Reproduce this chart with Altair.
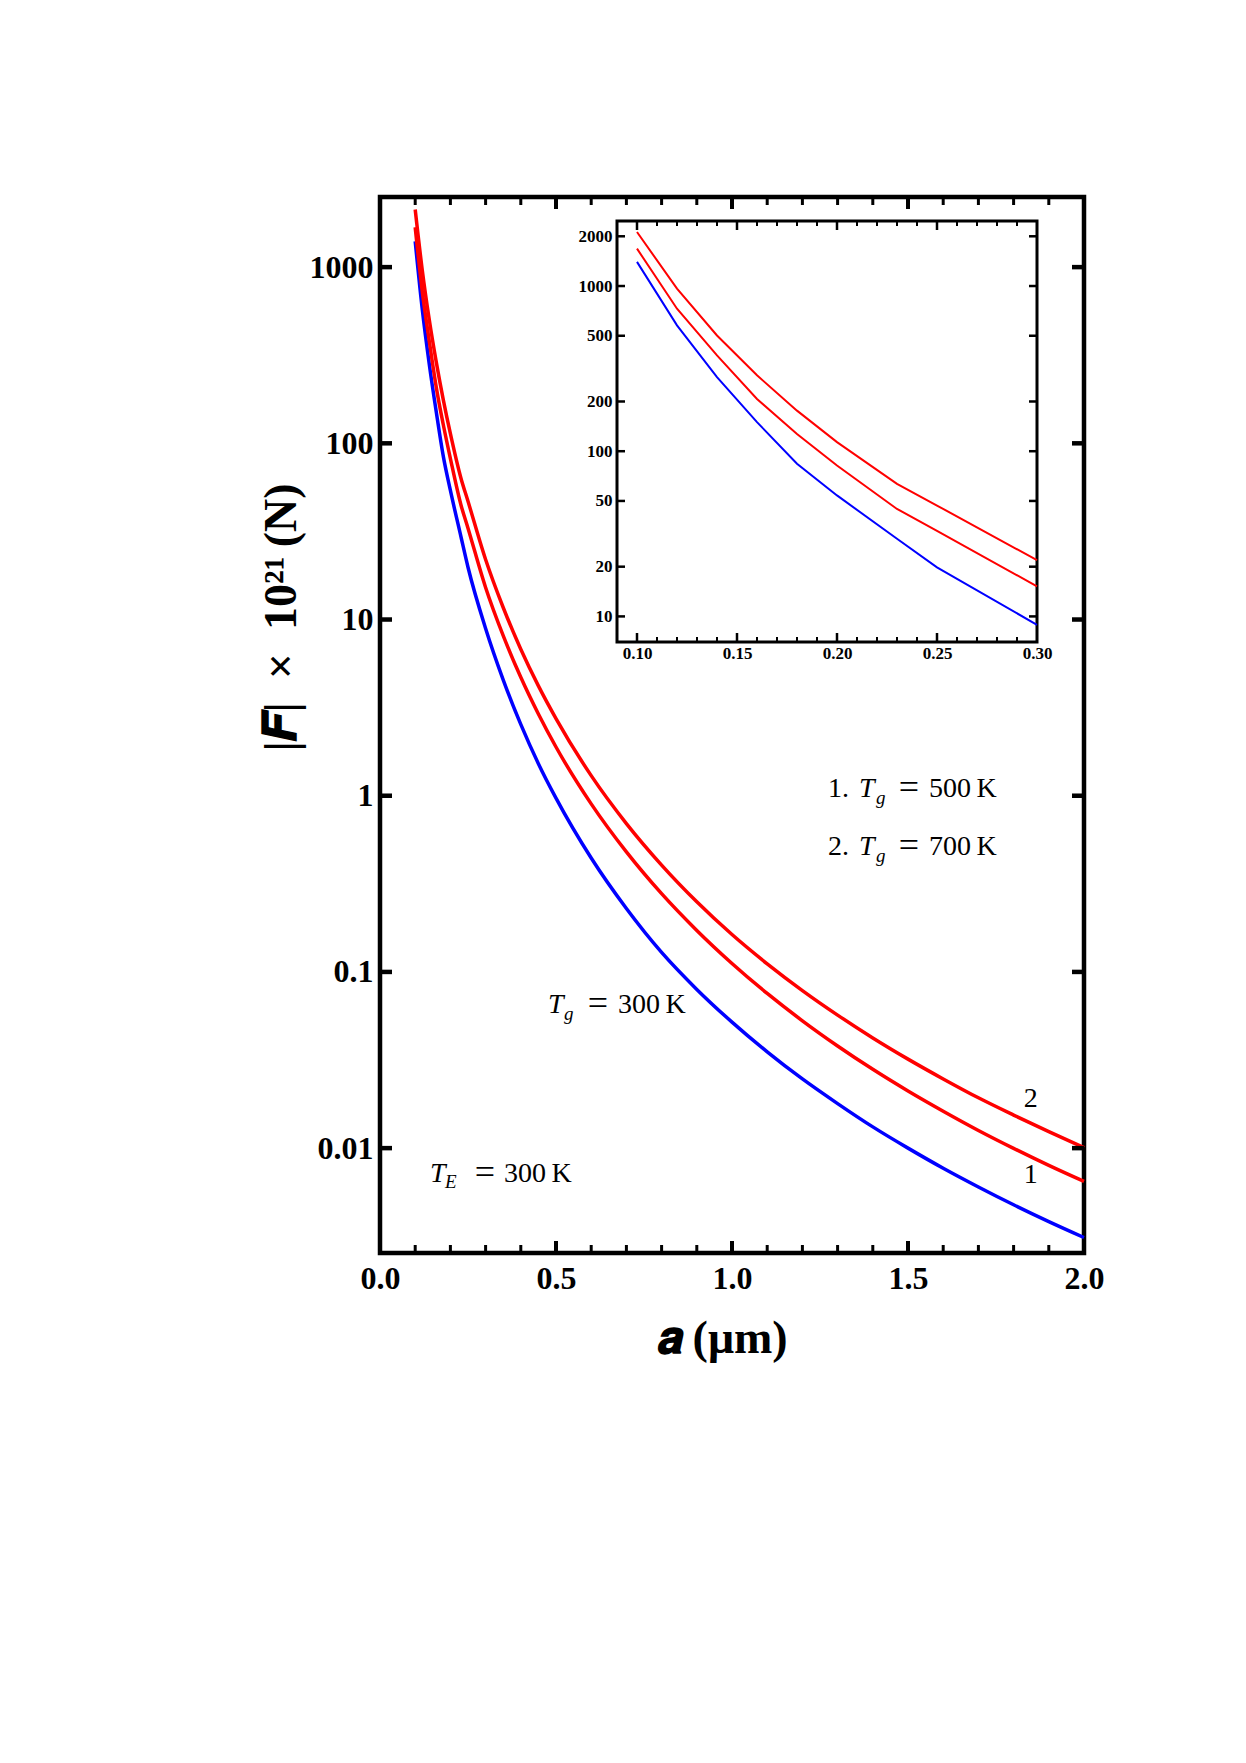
import altair as alt
import pandas as pd

FONT = "Liberation Serif"
TITLE_FONT = "Liberation Serif, DejaVu Serif"

# ---------------- data ----------------
a_vals = [0.10, 0.12, 0.14, 0.16, 0.18, 0.20, 0.23, 0.25, 0.30, 0.35, 0.40, 0.45,
          0.50, 0.60, 0.70, 0.80, 0.90, 1.00, 1.10, 1.20, 1.30, 1.40, 1.50, 1.60,
          1.70, 1.80, 1.90, 2.00]
blue_300 = [1400, 578, 281, 150, 84, 54, 29.5, 19.8, 8.9, 4.55, 2.54, 1.52,
            0.969, 0.443, 0.229, 0.129, 0.0796, 0.0519, 0.0352, 0.0247, 0.0179, 0.0132, 0.0100, 0.00769,
            0.00602, 0.00477, 0.00383, 0.00311]
red_500 = [1683, 729, 380, 207, 127, 82, 44.7, 33, 15.2, 8.10, 4.70, 2.91,
           1.89, 0.899, 0.480, 0.278, 0.172, 0.1117, 0.0755, 0.0528, 0.0380, 0.0280, 0.0211, 0.0162,
           0.0126, 0.00997, 0.00798, 0.00647]
red_700 = [2123, 964, 502, 288, 176, 113.5, 63.4, 46.9, 21.9, 11.7, 6.78, 4.20,
           2.74, 1.30, 0.695, 0.404, 0.250, 0.163, 0.1112, 0.0784, 0.0569, 0.0422, 0.0320, 0.0247,
           0.0193, 0.0154, 0.0124, 0.01006]
series_names = ["Tg300", "Tg500", "Tg700"]
series_colors = ["#0000ff", "#ff0000", "#ff0000"]

main_x_domain = [0.0, 2.0]
main_y_domain = [0.00254, 2500]
main_x_labels = [0.0, 0.5, 1.0, 1.5, 2.0]
main_y_labels = [0.01, 0.1, 1, 10, 100, 1000]
main_x_major = [0.5, 1.0, 1.5]
main_x_minor = [0.1, 0.2, 0.3, 0.4, 0.6, 0.7, 0.8, 0.9, 1.1, 1.2, 1.3, 1.4, 1.6, 1.7, 1.8, 1.9]

inset_x_domain = [0.09, 0.30]
inset_y_domain = [7, 2475]
inset_x_labels = [0.10, 0.15, 0.20, 0.25, 0.30]
inset_y_labels = [10, 20, 50, 100, 200, 500, 1000, 2000]
inset_x_major = [0.10, 0.15, 0.20, 0.25]
inset_x_minor = [0.11, 0.12, 0.13, 0.14, 0.16, 0.17, 0.18, 0.19, 0.21, 0.22, 0.23, 0.24,
                 0.26, 0.27, 0.28, 0.29]

# annotation anchors (data coordinates)
ann_tg300 = {"x": [0.477], "y": [0.0583]}
ann_te300 = {"x": [0.142], "y": [0.00644]}
ann_tg500 = {"x": [1.2727], "y": [0.986]}
ann_tg700 = {"x": [1.2727], "y": [0.460]}
curve_label_x = [1.849, 1.849]
curve_label_y = [0.00631, 0.01714]
curve_label_text = ["1", "2"]

# ---------------- layout ----------------
W, H = 704, 1056
INSET_X_RANGE = [237, 657]
INSET_Y_RANGE = [445, 24]

rows = []
for name, vals in zip(series_names, [blue_300, red_500, red_700]):
    for x, v in zip(a_vals, vals):
        rows.append({"a": x, "F": v, "series": name})
df = pd.DataFrame(rows)
df_inset = df[df["a"] <= 0.30 + 1e-9]

xs = alt.Scale(domain=main_x_domain, nice=False, zero=False)
ys = alt.Scale(type="log", domain=main_y_domain, nice=False)
ixs = alt.Scale(domain=inset_x_domain, range=INSET_X_RANGE, nice=False, zero=False)
iys = alt.Scale(type="log", domain=inset_y_domain, range=INSET_Y_RANGE, nice=False)


def cs():
    return alt.Scale(domain=series_names, range=series_colors)


lab = dict(labelFont=FONT, labelFontWeight="bold", labelColor="black",
           labelFlush=False, labelOverlap=False, ticks=False,
           domain=False, grid=False)

main_lines = alt.Chart(df).mark_line(strokeWidth=3.5, interpolate="monotone").encode(
    x=alt.X("a:Q", scale=xs, axis=alt.Axis(
        values=main_x_labels, format=".1f", labelFontSize=32, labelPadding=10,
        title="𝒂\u2009(μm)", titleFont=TITLE_FONT, titleFontSize=46, titleFontWeight="bold",
        titleColor="black", titleX=342, titleY=85, titleBaseline="middle",
        titleAlign="center", **lab)),
    y=alt.Y("F:Q", scale=ys, axis=alt.Axis(
        values=main_y_labels, format="~g", labelFontSize=32, labelPadding=7,
        title="|𝑭|\u2002×\u200210²¹\u2009(N)", titleFont=TITLE_FONT, titleFontSize=46,
        titleFontWeight="bold", titleColor="black", titleX=-99, titleY=420, titleAngle=270,
        titleBaseline="middle", titleAlign="center", **lab)),
    color=alt.Color("series:N", scale=cs(), legend=None),
    detail="series:N",
)


def xticks(vals, yval, size, thick, yoff, sx, sy):
    return alt.Chart(pd.DataFrame({"x": vals, "y": [yval] * len(vals)})).mark_tick(
        orient="vertical", size=size, thickness=thick, yOffset=yoff, color="black", opacity=1
    ).encode(x=alt.X("x:Q", scale=sx, axis=None), y=alt.Y("y:Q", scale=sy, axis=None))


def yticks(vals, xval, size, thick, xoff, sx, sy):
    return alt.Chart(pd.DataFrame({"y": vals, "x": [xval] * len(vals)})).mark_tick(
        orient="horizontal", size=size, thickness=thick, xOffset=xoff, color="black", opacity=1
    ).encode(y=alt.Y("y:Q", scale=sy, axis=None), x=alt.X("x:Q", scale=sx, axis=None))


def text_pieces(anchor, pieces):
    layers = []
    d = pd.DataFrame(anchor)
    for txt, dx, dy, size, style, align in pieces:
        layers.append(alt.Chart(d).mark_text(
            text=txt, dx=dx, dy=dy, fontSize=size, fontStyle=style, font=FONT,
            align=align, baseline="alphabetic", color="black"
        ).encode(x=alt.X("x:Q", scale=xs, axis=None), y=alt.Y("y:Q", scale=ys, axis=None)))
    return layers


main_ticks = [
    xticks(main_x_major, main_y_domain[0], 12, 4, -6, xs, ys),
    xticks(main_x_minor, main_y_domain[0], 8, 3, -4, xs, ys),
    xticks(main_x_major, main_y_domain[1], 12, 4, 6, xs, ys),
    xticks(main_x_minor, main_y_domain[1], 8, 3, 4, xs, ys),
    yticks(main_y_labels, main_x_domain[0], 12, 4.5, 6, xs, ys),
    yticks(main_y_labels, main_x_domain[1], 12, 4.5, -6, xs, ys),
]

texts = []
texts += text_pieces(ann_tg300, [("T", 0, 0, 28, "italic", "left"), ("g", 16, 7, 19, "italic", "left"),
                                 ("=", 50, 2, 36, "normal", "center"),
                                 ("300\u2009K", 70, 0, 28, "normal", "left")])
texts += text_pieces(ann_te300, [("T", 0, 0, 28, "italic", "left"), ("E", 15, 6, 19, "italic", "left"),
                                 ("=", 55, 2, 36, "normal", "center"),
                                 ("300\u2009K", 74, 0, 28, "normal", "left")])
texts += text_pieces(ann_tg500, [("1.", 0, 0, 28, "normal", "left"), ("T", 31, 0, 28, "italic", "left"),
                                 ("g", 48, 7, 19, "italic", "left"), ("=", 81, 2, 36, "normal", "center"),
                                 ("500\u2009K", 101, 0, 28, "normal", "left")])
texts += text_pieces(ann_tg700, [("2.", 0, 0, 28, "normal", "left"), ("T", 31, 0, 28, "italic", "left"),
                                 ("g", 48, 7, 19, "italic", "left"), ("=", 81, 2, 36, "normal", "center"),
                                 ("700\u2009K", 101, 0, 28, "normal", "left")])
curve_labels = alt.Chart(pd.DataFrame({"x": curve_label_x, "y": curve_label_y, "t": curve_label_text})).mark_text(
    font=FONT, fontSize=28, align="center", baseline="alphabetic", color="black"
).encode(x=alt.X("x:Q", scale=xs, axis=None), y=alt.Y("y:Q", scale=ys, axis=None), text="t:N")

# ---------------- inset ----------------
inset_frame = alt.Chart(pd.DataFrame({"x": [inset_x_domain[0]], "x2": [inset_x_domain[1]],
                                      "y": [inset_y_domain[0]], "y2": [inset_y_domain[1]]})).mark_rect(
    fill="white", stroke="black", strokeWidth=3
).encode(
    x=alt.X("x:Q", scale=ixs, axis=None), x2="x2:Q",
    y=alt.Y("y:Q", scale=iys, axis=None), y2="y2:Q",
)

inset_lines = alt.Chart(df_inset).mark_line(strokeWidth=2).encode(
    x=alt.X("a:Q", scale=ixs, axis=alt.Axis(
        orient="bottom", offset=-(H - INSET_Y_RANGE[0]), values=inset_x_labels, format=".2f",
        labelFontSize=17, labelPadding=3, title=None, **lab)),
    y=alt.Y("F:Q", scale=iys, axis=alt.Axis(
        orient="left", offset=-INSET_X_RANGE[0], values=inset_y_labels, format="d",
        labelFontSize=17, labelPadding=5, title=None, **lab)),
    color=alt.Color("series:N", scale=cs(), legend=None),
    detail="series:N",
)

inset_ticks = [
    xticks(inset_x_major, inset_y_domain[0], 9, 2.5, -4.5, ixs, iys),
    xticks(inset_x_minor, inset_y_domain[0], 5, 2, -2.5, ixs, iys),
    xticks(inset_x_major, inset_y_domain[1], 9, 2.5, 4.5, ixs, iys),
    xticks(inset_x_minor, inset_y_domain[1], 5, 2, 2.5, ixs, iys),
    yticks(inset_y_labels, inset_x_domain[0], 8, 2.5, 4, ixs, iys),
    yticks(inset_y_labels, inset_x_domain[1], 8, 2.5, -4, ixs, iys),
]

chart = alt.layer(
    main_lines, *main_ticks, *texts, curve_labels,
    inset_frame, inset_lines, *inset_ticks
).resolve_scale(
    x="independent", y="independent", color="independent"
).properties(
    width=W, height=H,
    autosize=alt.AutoSizeParams(type="none"),
    padding={"left": 372, "top": 189, "right": 150, "bottom": 500},
    background="white",
).configure_view(stroke="black", strokeWidth=4.5)

chart.save("out.html", embed_options={"renderer": "svg", "actions": False})
